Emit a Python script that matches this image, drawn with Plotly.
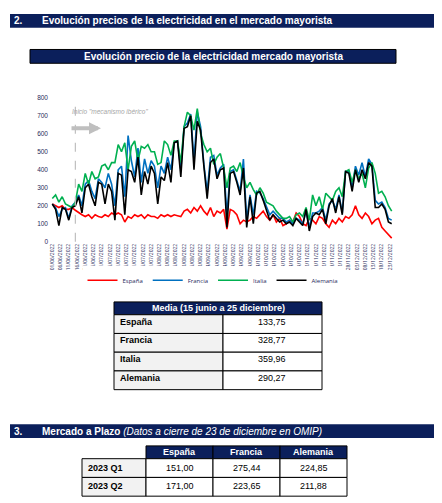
import plotly.graph_objects as go
import pandas as pd

W, H = 442, 503
dates = pd.date_range("2022-06-01", periods=104, freq="2D")
espana = [210,200,190,200,180,180,190,175,160,150,
          140,150,130,150,140,135,150,140,160,150,
          160,150,110,140,130,150,140,150,130,150,
          140,140,130,150,140,150,140,150,145,140,
          170,180,160,190,170,200,170,150,190,140,
          170,160,180,70,180,170,150,100,120,110,
          120,140,130,150,170,140,120,150,110,130,
          90,100,120,110,160,140,100,90,130,120,
          100,140,130,100,80,120,100,130,110,140,
          130,150,200,150,130,160,140,100,120,130,
          80,60,40,20]
francia = [210,190,140,180,190,130,200,220,260,200,
           320,340,280,240,350,330,300,380,320,200,
           400,420,250,590,450,360,520,330,460,380,
           450,420,300,420,380,470,400,550,560,400,
           640,660,710,450,720,640,430,280,470,480,
           370,410,430,150,390,400,340,280,460,120,
           260,150,280,270,240,190,150,170,150,130,
           130,110,120,100,130,120,100,170,80,160,
           160,170,190,120,210,230,180,260,160,390,
           390,300,420,370,440,360,460,430,230,210,
           220,190,130,120]
italia = [240,260,220,250,210,200,190,220,320,280,
          380,320,390,350,360,420,430,400,440,440,
          540,500,550,400,530,560,450,530,520,540,
          500,500,430,440,560,540,480,560,560,440,
          640,720,700,620,740,600,540,500,520,430,
          470,490,410,300,410,420,390,440,360,300,
          330,290,260,300,270,220,210,200,170,150,
          130,130,140,110,150,160,140,190,120,260,
          200,250,180,270,250,230,280,300,250,390,
          400,330,400,350,380,300,410,440,380,270,
          280,250,200,170]
alemania = [210,180,90,190,180,120,190,200,250,160,
            300,320,250,200,330,320,210,320,280,120,
            380,370,150,400,390,330,470,260,390,320,
            420,380,210,360,340,440,330,550,560,360,
            630,640,700,400,670,620,420,240,440,460,
            350,400,410,80,380,390,330,260,410,80,
            250,100,270,280,230,170,120,150,130,110,
            120,100,110,90,130,110,90,180,60,140,
            160,150,180,100,200,240,160,250,150,390,
            380,280,400,330,400,350,440,420,190,190,
            210,180,110,100]
series = [("España", espana, "#FF0000"), ("Francia", francia, "#0070C0"),
          ("Italia", italia, "#00B050"), ("Alemania", alemania, "#000000")]

media_names = ["España", "Francia", "Italia", "Alemania"]
media_vals = ["133,75", "328,77", "359,96", "290,27"]
plazo_cols = ["España", "Francia", "Alemania"]
plazo_rows = ["2023 Q1", "2023 Q2"]
plazo_vals = [["151,00", "275,44", "224,85"], ["171,00", "223,65", "211,88"]]

NAVY = "#0B1F5B"
fig = go.Figure()
for name, vals, col in series:
    fig.add_trace(go.Scatter(x=dates, y=vals, name=name, mode="lines",
                             line=dict(color=col, width=1.6)))

ticks = pd.date_range("2022-06-01", "2022-12-23", freq="5D")
px = lambda x: x / W
py = lambda y: 1 - y / H
shapes, ann = [], []

def rect(x0, y0, x1, y1, fill, line=None):
    shapes.append(dict(type="rect", xref="paper", yref="paper", x0=px(x0), x1=px(x1),
                       y0=py(y1), y1=py(y0), fillcolor=fill,
                       line=dict(color=line or fill, width=1 if line else 0)))

def text(x, y, s, size=9, color="black", anchor="left", bold=True, italic=False):
    t = f"<b>{s}</b>" if bold else s
    if italic:
        t = f"<i>{t}</i>"
    ann.append(dict(xref="paper", yref="paper", x=px(x), y=py(y), text=t, showarrow=False,
                    xanchor=anchor, yanchor="middle",
                    font=dict(family="Liberation Sans, Arial", size=size, color=color)))

# section 2 header
rect(2, 2, 434, 16, NAVY)
text(4, 9, "2.", 10, "white")
text(32, 9, "Evolución precios de la electricidad en el mercado mayorista", 10, "white")
# chart title
rect(22, 38, 388, 52, NAVY, "black")
text(205, 45, "Evolución precio de la electricidad mercado mayorista", 10, "white", "center")

# mechanism annotation
shapes.append(dict(type="line", xref="x", yref="paper", x0="2022-06-15", x1="2022-06-15",
                   y0=py(233), y1=py(90), line=dict(color="#BFBFBF", width=1.2, dash="dash")))
ann.append(dict(xref="paper", yref="paper", x=px(93), y=py(118), ax=-31, ay=0,
                showarrow=True, arrowhead=2, arrowsize=0.6,
                arrowwidth=4, arrowcolor="#BFBFBF", text=""))
text(62, 101, "Inicio \"mecanismo ibérico\"", 6.5, "#A6A6A6", bold=False, italic=True)

# table media
rect(106, 294, 314, 307, NAVY, "black")
text(210, 300.5, "Media (15 junio a 25 diciembre)", 9, "white", "center")
for i, (n, v) in enumerate(zip(media_names, media_vals)):
    y0 = 307 + i * 19
    rect(106, y0, 215, y0 + 19, "#F2F2F2", "black")
    rect(215, y0, 314, y0 + 19, "white", "black")
    text(110, y0 + 7, n, 9)
    text(264, y0 + 7, v, 9, anchor="center", bold=False)

# section 3
rect(2, 418, 434, 432, NAVY)
text(4, 425, "3.", 10, "white")
ann.append(dict(xref="paper", yref="paper", x=px(32), y=py(425), showarrow=False,
                xanchor="left", yanchor="middle",
                text="<b>Mercado a Plazo</b> <i>(Datos a cierre de 23 de diciembre en OMIP)</i>",
                font=dict(family="Liberation Sans, Arial", size=10, color="white")))
for j, c in enumerate(plazo_cols):
    x0 = 138 + j * 67
    rect(x0, 440, x0 + 67, 453, NAVY, "black")
    text(x0 + 33.5, 446.5, c, 9, "white", "center")
for i, r in enumerate(plazo_rows):
    y0 = 453 + i * 19
    rect(74, y0, 138, y0 + 19, "#F2F2F2", "black")
    text(78, y0 + 9, r, 9)
    for j in range(3):
        x0 = 138 + j * 67
        rect(x0, y0, x0 + 67, y0 + 19, "white", "black")
        text(x0 + 33.5, y0 + 9, plazo_vals[i][j], 9, anchor="center", bold=False)

fig.update_layout(
    width=W, height=H, margin=dict(l=0, r=0, t=0, b=0),
    paper_bgcolor="white", plot_bgcolor="white",
    shapes=shapes, annotations=ann,
    xaxis=dict(domain=[px(41), px(387)], range=["2022-05-30", "2022-12-26"],
               tickvals=ticks, ticktext=[d.strftime("%d/%m/%Y") for d in ticks],
               tickangle=-90, tickfont=dict(size=5, color="#1F2A5C"), showgrid=False,
               showline=False, ticks=""),
    yaxis=dict(domain=[py(233), py(87)], range=[0, 800], dtick=100, showgrid=False,
               zeroline=False, tickfont=dict(size=6.5, color="#1F2A5C", family="Liberation Sans"),
               tickformat="d"),
    legend=dict(orientation="h", x=px(205), xanchor="center", y=py(272), yanchor="middle",
                font=dict(size=6, color="#1F2A5C"), itemwidth=30),
    showlegend=True,
)
fig.write_html("out.html")
